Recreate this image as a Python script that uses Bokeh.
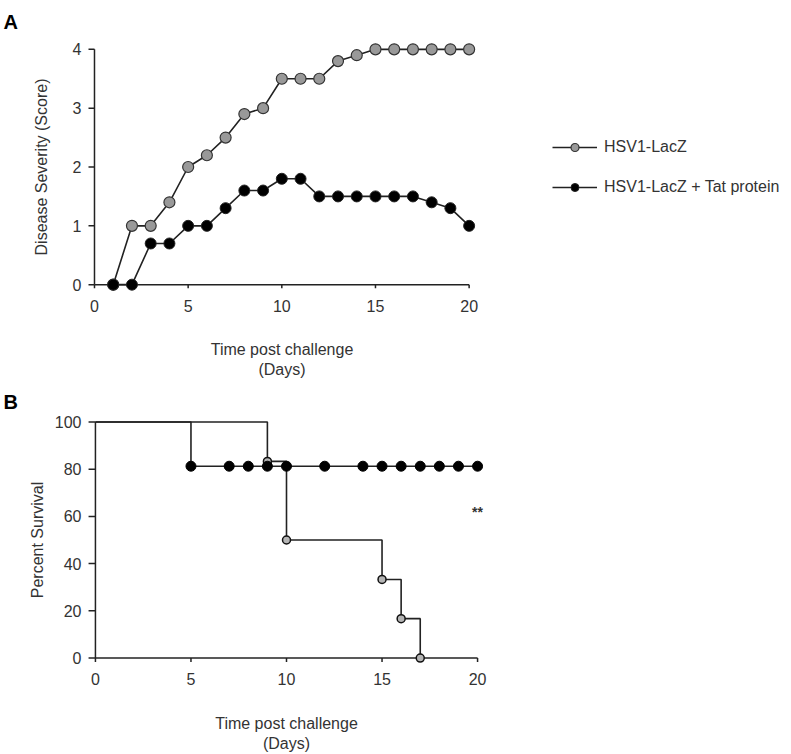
from bokeh.plotting import figure
from bokeh.layouts import column
from bokeh.models import Range1d, Legend, LegendItem, FixedTicker
from bokeh.embed import file_html
from bokeh.resources import INLINE
from bokeh.core.properties import value

# ---------------- Panel A data ----------------
days_a = list(range(1, 21))
lacz_score = [0, 1.0, 1.0, 1.4, 2.0, 2.2, 2.5, 2.9, 3.0, 3.5, 3.5, 3.5, 3.8, 3.9,
              4.0, 4.0, 4.0, 4.0, 4.0, 4.0]
tat_score = [0, 0, 0.7, 0.7, 1.0, 1.0, 1.3, 1.6, 1.6, 1.8, 1.8, 1.5, 1.5, 1.5,
             1.5, 1.5, 1.5, 1.4, 1.3, 1.0]
a_xticks = [0, 5, 10, 15, 20]
a_yticks = [0, 1, 2, 3, 4]

# ---------------- Panel B data ----------------
tat_surv_days = [0, 5, 20]
tat_surv_pct = [100, 81.25, 81.25]
tat_censor_days = [5, 7, 8, 9, 10, 12, 14, 15, 16, 17, 18, 19, 20]
tat_censor_pct = [81.25] * 13
lacz_surv_days = [0, 9, 10, 15, 16, 17]
lacz_surv_pct = [100, 83.3, 50, 33.3, 16.7, 0]
b_xticks = [0, 5, 10, 15, 20]
b_yticks = [0, 20, 40, 60, 80, 100]
sig_x, sig_y, sig_label = 20, 62, "**"

FONT = "Liberation Sans"
TXT = "#333333"
LINE = "#222222"


def style(p, xticks, yticks, xlabel, ylabel, xtick_so, xlab_so, ylab_so):
    p.grid.visible = False
    p.outline_line_color = None
    p.background_fill_color = "white"
    p.border_fill_color = "white"
    for ax in (p.xaxis[0], p.yaxis[0]):
        ax.axis_line_color = None
        ax.major_tick_line_color = None
        ax.minor_tick_line_color = None
        ax.major_tick_in = 0
        ax.major_tick_out = 0
        ax.major_label_text_font = FONT
        ax.major_label_text_font_size = "16px"
        ax.major_label_text_color = TXT
        ax.axis_label_text_font = FONT
        ax.axis_label_text_font_size = "16px"
        ax.axis_label_text_color = TXT
        ax.axis_label_text_font_style = "normal"
    p.xaxis[0].ticker = FixedTicker(ticks=xticks)
    p.yaxis[0].ticker = FixedTicker(ticks=yticks)
    p.xaxis[0].axis_label = xlabel
    p.yaxis[0].axis_label = ylabel
    p.xaxis[0].major_label_standoff = xtick_so
    p.yaxis[0].major_label_standoff = 4
    p.xaxis[0].axis_label_standoff = xlab_so
    p.yaxis[0].axis_label_standoff = ylab_so


def draw_axes(p, xticks, yticks, xtick_len, ytick_len):
    x0, x1 = xticks[0], xticks[-1]
    y0, y1 = yticks[0], yticks[-1]
    p.segment(x0=[x0, x0], y0=[y0, y0], x1=[x1, x0], y1=[y0, y1],
              line_color=LINE, line_width=1.5)
    p.segment(x0=xticks, y0=[y0] * len(xticks), x1=xticks,
              y1=[y0 - xtick_len] * len(xticks), line_color=LINE, line_width=1.5)
    p.segment(x0=[x0] * len(yticks), y0=yticks, x1=[x0 - ytick_len] * len(yticks),
              y1=yticks, line_color=LINE, line_width=1.5)


def panel_title(p):
    p.title.text_font = FONT
    p.title.text_font_size = "20px"
    p.title.text_font_style = "bold"
    p.title.text_color = "black"
    p.title.align = "left"
    p.title.offset = -82


# ---------------- Figure A ----------------
pa = figure(frame_width=393, frame_height=253,
            x_range=Range1d(-0.48, 20.5), y_range=Range1d(-0.15, 4.15),
            min_border_left=85, min_border_right=300, min_border_top=40,
            min_border_bottom=87, toolbar_location=None, output_backend="svg",
            title="A")
style(pa, a_xticks, a_yticks, "Time post challenge\n(Days)",
      "Disease Severity (Score)", 6, 26, 20)
panel_title(pa)
pa.title.standoff = 16

draw_axes(pa, a_xticks, a_yticks, 0.06, 0.32)

l1 = pa.line(days_a, lacz_score, line_color=LINE, line_width=1.6)
l2 = pa.line(days_a, tat_score, line_color=LINE, line_width=1.6)
s1 = pa.scatter(days_a, lacz_score, size=11, fill_color="#999999",
                line_color="#333333", line_width=1.2)
s2 = pa.scatter(days_a, tat_score, size=11, fill_color="black",
                line_color="#222222", line_width=1)

legend = Legend(items=[LegendItem(label="HSV1-LacZ", renderers=[l1, s1]),
                       LegendItem(label="HSV1-LacZ + Tat protein", renderers=[l2, s2])],
                location=(74, 96), glyph_width=45, glyph_height=20,
                label_standoff=7, spacing=20, padding=0, margin=0,
                border_line_color=None, background_fill_alpha=0,
                label_text_font=FONT, label_text_font_size="16px",
                label_text_color=TXT)
pa.add_layout(legend, "right")

# ---------------- Figure B ----------------
pb = figure(frame_width=402, frame_height=255,
            x_range=Range1d(-0.52, 20.52), y_range=Range1d(-4, 104),
            min_border_left=85, min_border_right=291, min_border_top=32,
            min_border_bottom=79, toolbar_location=None, output_backend="svg",
            title="B")
style(pb, b_xticks, b_yticks, "Time post challenge\n(Days)", "Percent Survival",
      5, 27, 6)
panel_title(pb)
pb.title.standoff = 0

draw_axes(pb, b_xticks, b_yticks, 1.7, 0.36)

pb.step(lacz_surv_days, lacz_surv_pct, mode="after", line_color=LINE, line_width=1.6)
pb.step(tat_surv_days, tat_surv_pct, mode="after", line_color=LINE, line_width=1.6)
pb.scatter(lacz_surv_days[1:], lacz_surv_pct[1:], size=8, fill_color="#b5b5b5",
           line_color="#111111", line_width=1.5)
pb.scatter(tat_censor_days, tat_censor_pct, size=10, fill_color="black",
           line_color="black")
pb.text(x=[sig_x], y=[sig_y], text=[sig_label], text_font=value(FONT),
        text_font_size="14px", text_font_style="bold", text_color=TXT,
        text_align="center", text_baseline="alphabetic")

layout = column(pa, pb, spacing=0)
open("out.html", "w").write(file_html(layout, INLINE))
